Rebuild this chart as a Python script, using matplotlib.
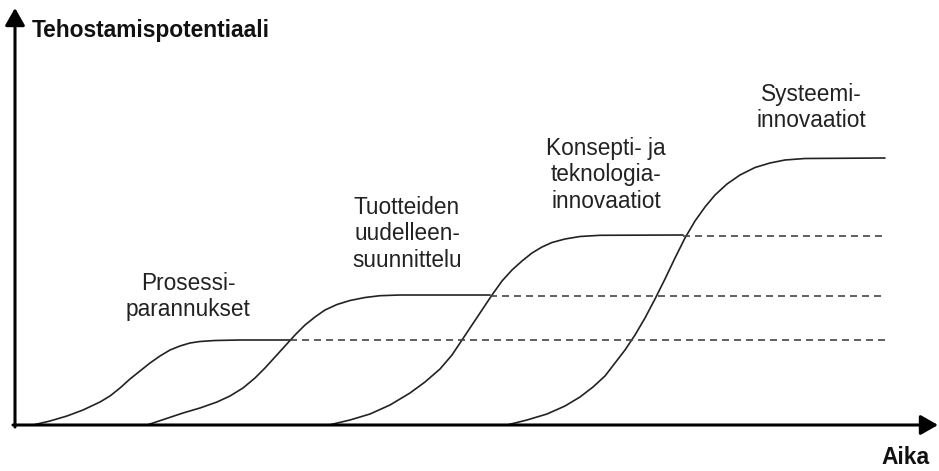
import matplotlib.pyplot as plt

# curve points (time, potential)
prosessi_t = [18, 35, 52, 68, 85, 95, 105, 115, 125, 135, 145, 155, 165, 175,
              185, 200, 225, 275]
prosessi_p = [0, 4, 9, 15, 23, 29, 37, 46, 54, 62, 69, 75, 79, 82,
              83.5, 84.5, 85, 85]

tuote_t = [132, 150, 168, 185, 202, 215, 228, 240, 250, 260, 270, 280, 290,
           300, 310, 322, 335, 350, 365, 385, 475]
tuote_p = [0, 6, 12, 17, 23, 29, 37, 47, 57, 68, 79, 90, 100,
           108, 115, 120.5, 124.5, 127.5, 129.3, 130, 130]

konsepti_t = [314, 335, 355, 375, 395, 410, 425, 437, 447, 457, 467, 477, 487,
              497, 507, 517, 527, 537, 550, 565, 585, 668]
konsepti_p = [0, 5, 11, 20, 32, 43, 56, 70, 85, 100, 115, 130, 144,
              155, 164, 172, 178, 182.5, 186, 188.5, 189.7, 190]

systeemi_t = [492, 512, 532, 550, 565, 578, 590, 600, 610, 620, 630, 640, 650,
              660, 670, 680, 690, 700, 712, 725, 740, 755, 770, 790, 870]
systeemi_p = [0, 5, 11, 19, 28, 38, 49, 62, 75, 90, 107, 126, 146,
              167, 187, 204, 218, 230, 241, 250, 257.5, 262, 265, 266.5, 267]

# dashed continuation of each plateau
plateau_levels = [85, 129.5, 189]
dash_starts = [275, 475, 668]
dash_end = 870

labels = ["Prosessi-\nparannukset",
          "Tuotteiden\nuudelleen-\nsuunnittelu",
          "Konsepti- ja\nteknologia-\ninnovaatiot",
          "Systeemi-\ninnovaatiot"]
label_t = [173, 392, 591, 796]
label_p = [128.5, 191, 250, 317.5]

plt.rcParams['font.family'] = ['Liberation Sans', 'DejaVu Sans']

fig = plt.figure(figsize=(9.39, 4.71), dpi=100)
ax = fig.add_axes([0, 0, 1, 1])
ax.set_xlim(-15, 924)
ax.set_ylim(-46, 425)
ax.axis('off')

line_color = '#222222'
for t, p in [(prosessi_t, prosessi_p), (tuote_t, tuote_p),
             (konsepti_t, konsepti_p), (systeemi_t, systeemi_p)]:
    ax.plot(t, p, color=line_color, lw=1.2, solid_capstyle='round',
            solid_joinstyle='round')

for level, start in zip(plateau_levels, dash_starts):
    ax.plot([start, dash_end], [level, level], color='#444444', lw=1.2,
            dashes=(4.2, 3))

# axes with arrow heads
arrow = dict(arrowstyle='-|>,head_length=0.35,head_width=0.2', lw=2.2,
             color='black', mutation_scale=30, shrinkA=0, shrinkB=0)
ax.annotate('', xy=(0, 417), xytext=(0, -2), arrowprops=arrow)
ax.annotate('', xy=(923, 0), xytext=(-2, 0), arrowprops=arrow)

ax.text(17, 395, "Tehostamispotentiaali", fontsize=16.4, fontweight='bold',
        ha='left', va='center', color='#111111')
ax.text(891, -33, "Aika", fontsize=16.4, fontweight='bold',
        ha='center', va='center', color='#111111')

for txt, t, p in zip(labels, label_t, label_p):
    ax.text(t, p, txt, fontsize=16.3, ha='center', va='center',
            multialignment='center', color=line_color)

plt.savefig("out.png", dpi=100)
